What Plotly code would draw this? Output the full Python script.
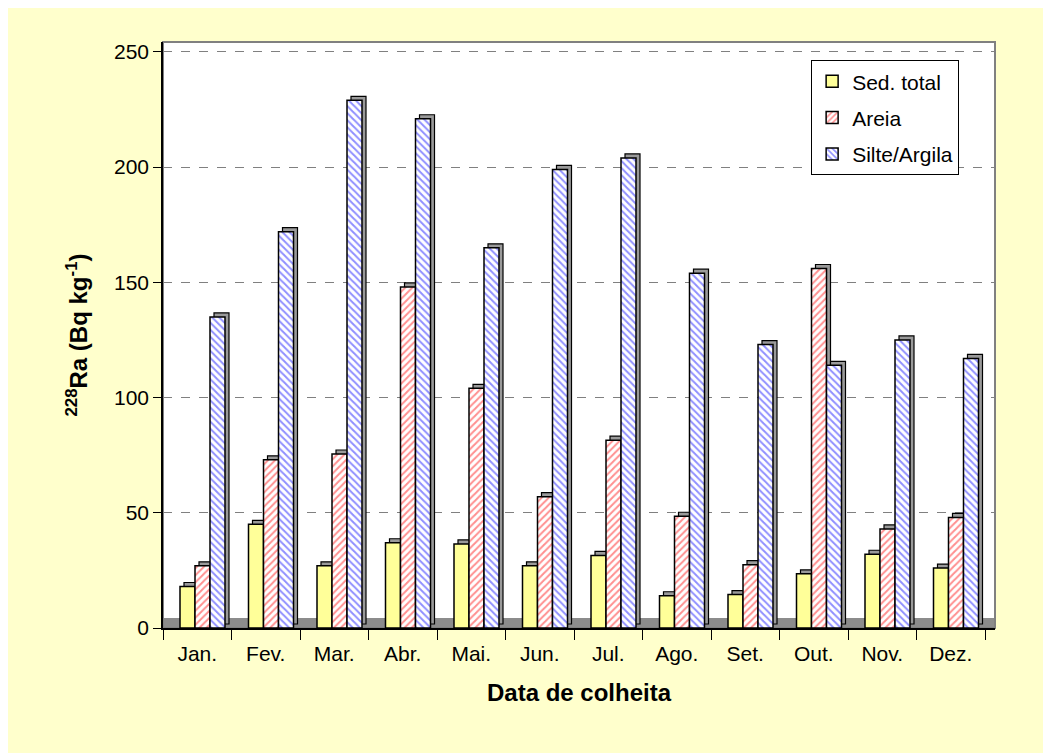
import plotly.graph_objects as go

months = ["Jan.", "Fev.", "Mar.", "Abr.", "Mai.", "Jun.", "Jul.", "Ago.", "Set.", "Out.", "Nov.", "Dez."]
sed_total = [18, 45, 27, 37, 36.5, 27, 31.5, 14, 14.5, 23.5, 32, 26]
areia = [27, 73, 75.5, 148, 104, 57, 81.5, 48.5, 27.5, 156, 43, 48]
silte_argila = [135, 172, 229, 221, 165, 199, 204, 154, 123, 114, 125, 117]

series_names = ["Sed. total", "Areia", "Silte/Argila"]
series_values = [sed_total, areia, silte_argila]

FONT = "Arial, Liberation Sans, sans-serif"
px_per_cat = 68.5
bar_w = 15 / px_per_cat
offsets = [-17.25 / px_per_cat, -2.25 / px_per_cat, 12.75 / px_per_cat]
depth_x = 4 / px_per_cat
y_max = 254.3
plot_h = 586
depth_y = 4 / plot_h * y_max

styles = [
    dict(color="#FFFF99"),
    dict(color="white", pattern=dict(shape="/", fgcolor="#FF2020", bgcolor="white", size=5, solidity=0.4)),
    dict(color="white", pattern=dict(shape="\\", fgcolor="#2020FF", bgcolor="white", size=5, solidity=0.4)),
]

fig = go.Figure()

# 3D depth (side/top) faces
for name, vals, off in zip(series_names, series_values, offsets):
    fig.add_trace(go.Bar(
        x=months, y=vals, base=depth_y, width=bar_w, offset=off + depth_x,
        marker=dict(color="#9A9A9A", line=dict(color="black", width=1.2)),
        showlegend=False, hoverinfo="skip",
    ))

# front faces
for i, (name, vals, off, st) in enumerate(zip(series_names, series_values, offsets, styles)):
    fig.add_trace(go.Bar(
        x=months, y=vals, width=bar_w, offset=off, name=name, legendgroup=str(i),
        marker=dict(line=dict(color="black", width=1.5), **st),
    ))

# floor and wall frame
fig.add_shape(type="rect", xref="paper", yref="y", x0=0, x1=1, y0=0, y1=10 / plot_h * y_max,
              fillcolor="#8C8C8C", line=dict(width=0), layer="below")
fig.add_shape(type="rect", xref="paper", yref="paper", x0=0, x1=1, y0=0, y1=1,
              fillcolor="rgba(0,0,0,0)", line=dict(color="#808080", width=2), layer="below")

fig.update_layout(
    width=1043, height=745,
    margin=dict(l=155, r=56, t=34, b=125),
    paper_bgcolor="#FFFFCC", plot_bgcolor="white",
    barmode="overlay",
    font=dict(family=FONT, size=21, color="black"),
    showlegend=True,
    legend=dict(
        x=0.779, y=0.969, xanchor="left", yanchor="top",
        bgcolor="white", bordercolor="black", borderwidth=1,
        font=dict(family=FONT, size=21, color="black"),
        tracegroupgap=6, itemwidth=30,
    ),
)
fig.update_xaxes(
    type="category", range=[-0.5, 11.5 + 10 / px_per_cat],
    showline=True, linecolor="black", linewidth=1.5,
    ticks="outside", ticklen=10, tickcolor="black", tickson="boundaries",
    ticklabelstandoff=6,
    showgrid=False,
    tickfont=dict(family=FONT, size=21),
    title=dict(text="<b>Data de colheita</b>", font=dict(family=FONT, size=24), standoff=20),
)
fig.update_yaxes(
    range=[0, y_max], tickvals=[0, 50, 100, 150, 200, 250],
    showline=True, linecolor="black", linewidth=1.5,
    ticks="outside", ticklen=8, tickcolor="black",
    showgrid=True, gridcolor="#808080", griddash="dash", gridwidth=1,
    zeroline=False,
    tickfont=dict(family=FONT, size=21),
    title=dict(text="<b><sup>228</sup>Ra (Bq kg<sup>-1</sup>)</b>", font=dict(family=FONT, size=24), standoff=20),
)

fig.write_html("out.html")
